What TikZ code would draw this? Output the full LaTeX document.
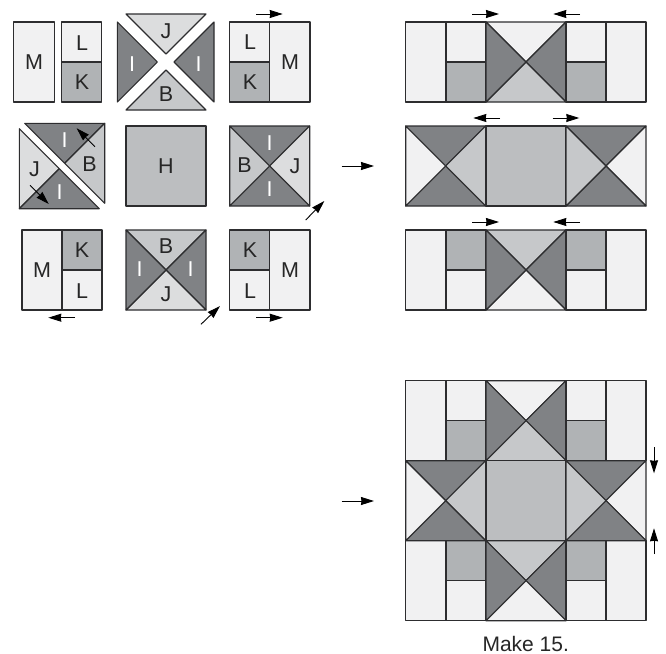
\documentclass[tikz,border=0pt]{standalone}
\usepackage{fontspec}
\setmainfont{Liberation Sans}
\usetikzlibrary{arrows.meta}
\definecolor{outline}{RGB}{45, 45, 47}
\definecolor{lightbg}{RGB}{241, 241, 242}
\definecolor{kbg}{RGB}{176, 179, 181}
\definecolor{ibg}{RGB}{128, 130, 133}
\definecolor{jbg}{RGB}{220, 221, 222}
\definecolor{bbg}{RGB}{198, 200, 202}
\definecolor{hbg}{RGB}{188, 190, 192}
\tikzset{
    patch/.style={draw=outline, line width=1.1pt, line join=round},
    piece/.style={font=\fontsize{21.5}{23}\selectfont, inner sep=0pt, color=black!85},
    whitepiece/.style={piece, color=white},
    caption/.style={font=\fontsize{21}{23}\selectfont, inner sep=0pt, color=black!85},
    press/.style={-{Stealth[length=13pt, width=8pt, inset=0.5pt]}, line width=0.9pt, color=black}
}
% quarter-square block: x, y, top, right, bottom, left
\newcommand{\quarterblock}[6]{
    \draw [patch, fill=#3] (#1,#2) -- ++(80,0) -- ++(-40,40) -- cycle;
    \draw [patch, fill=#4] (#1+80,#2) -- ++(0,80) -- ++(-40,-40) -- cycle;
    \draw [patch, fill=#5] (#1+80,#2+80) -- ++(-80,0) -- ++(40,-40) -- cycle;
    \draw [patch, fill=#6] (#1,#2+80) -- ++(0,-80) -- ++(40,40) -- cycle;
}
% two small squares: x, y, top, bottom
\newcommand{\twosquares}[4]{
    \draw [patch, fill=#3] (#1,#2) rectangle ++(40,40);
    \draw [patch, fill=#4] (#1,#2+40) rectangle ++(40,40);
}
% one row of the finished block: y, top and bottom of small squares, top and bottom of the middle unit
\newcommand{\sidesrow}[5]{
    \draw [patch, fill=lightbg] (405.7,#1) rectangle ++(40.3,80);
    \twosquares{446}{#1}{#2}{#3}
    \quarterblock{486}{#1}{#4}{ibg}{#5}{ibg}
    \twosquares{566}{#1}{#2}{#3}
    \draw [patch, fill=lightbg] (606,#1) rectangle ++(40,80);
}
\newcommand{\middlerow}[1]{
    \quarterblock{405.7}{#1}{ibg}{bbg}{ibg}{lightbg}
    \draw [patch, fill=hbg] (486,#1) rectangle ++(80,80);
    \quarterblock{566}{#1}{ibg}{lightbg}{ibg}{bbg}
}

\begin{document}
\begin{tikzpicture}[x=1pt, y=-1pt]
    \useasboundingbox (0,0) rectangle (666,653);

    % Top row of pieces
    \draw [patch, fill=lightbg] (13.7,22) rectangle (54.3,102);
    \twosquares{61.7}{22}{lightbg}{kbg}
    \draw [patch, fill=jbg] (126,14) -- (206,14) -- (166,54) -- cycle;
    \draw [patch, fill=ibg] (117.3,22) -- (117.3,102) -- (157.3,62) -- cycle;
    \draw [patch, fill=ibg] (214,22) -- (214,102) -- (174,62) -- cycle;
    \draw [patch, fill=bbg] (126,110) -- (206,110) -- (166,70) -- cycle;
    \twosquares{229.7}{22}{lightbg}{kbg}
    \draw [patch, fill=lightbg] (269.7,22) rectangle (310,102);

    % Middle row of pieces
    \draw [patch, fill=ibg] (24.7,123.3) -- (104.7,123.3) -- (64.7,163.3) -- cycle;
    \draw [patch, fill=bbg] (104.7,123.3) -- (104.7,203.3) -- (64.7,163.3) -- cycle;
    \draw [patch, fill=jbg] (19.3,128.7) -- (19.3,208.7) -- (59.3,168.7) -- cycle;
    \draw [patch, fill=ibg] (19.3,208.7) -- (99.3,208.7) -- (59.3,168.7) -- cycle;
    \draw [patch, fill=hbg] (126,126) rectangle (206,206);
    \quarterblock{229.7}{126}{ibg}{jbg}{ibg}{bbg}

    % Bottom row of pieces
    \draw [patch, fill=lightbg] (22,230) rectangle (62,310);
    \twosquares{62}{230}{kbg}{lightbg}
    \quarterblock{126}{230}{bbg}{ibg}{jbg}{ibg}
    \twosquares{229.7}{230}{kbg}{lightbg}
    \draw [patch, fill=lightbg] (269.7,230) rectangle (310,310);

    % Labels
    \node (lblm1) [piece] at (34,62) {M};
    \node (lbll1) [piece] at (82,43) {L};
    \node (lblk1) [piece] at (82,82) {K};
    \node (lblj1) [piece] at (166,31) {J};
    \node (lbli1) [whitepiece] at (132,64) {I};
    \node (lbli2) [whitepiece] at (198.5,64) {I};
    \node (lblb1) [piece] at (166,94) {B};
    \node (lbll2) [piece] at (250,42) {L};
    \node (lblk2) [piece] at (250,82) {K};
    \node (lblm2) [piece] at (290,62) {M};

    \node (lbli3) [whitepiece] at (64.5,140) {I};
    \node (lblb2) [piece] at (89.5,164) {B};
    \node (lblj2) [piece] at (34.5,169) {J};
    \node (lbli4) [whitepiece] at (59.5,192.5) {I};
    \node (lblh) [piece] at (166,166) {H};
    \node (lbli5) [whitepiece] at (269.7,143) {I};
    \node (lblb3) [piece] at (244.5,165.5) {B};
    \node (lblj3) [piece] at (295,166) {J};
    \node (lbli6) [whitepiece] at (269.7,189) {I};

    \node (lblm3) [piece] at (42,270) {M};
    \node (lblk3) [piece] at (82,250) {K};
    \node (lbll3) [piece] at (82,291) {L};
    \node (lblb4) [piece] at (166,246) {B};
    \node (lbli7) [whitepiece] at (139.5,269) {I};
    \node (lbli8) [whitepiece] at (190.5,269) {I};
    \node (lblj4) [piece] at (166,294) {J};
    \node (lblk4) [piece] at (250,250) {K};
    \node (lbll4) [piece] at (250,291) {L};
    \node (lblm4) [piece] at (290,270) {M};

    % Pressing arrows on the pieces
    \draw [press] (256,14) -- (282.7,14);
    \draw [press] (95,146.7) -- (76.7,128.3);
    \draw [press] (30,185.3) -- (48.7,204);
    \draw [press] (305.7,220) -- (324.3,201);
    \draw [press] (75,317.7) -- (48.3,317.7);
    \draw [press] (201,324.3) -- (220,306);
    \draw [press] (256,317.7) -- (282.7,317.7);

    % Joined rows
    \sidesrow{22}{lightbg}{kbg}{lightbg}{bbg}
    \middlerow{126}
    \sidesrow{230}{kbg}{lightbg}{bbg}{lightbg}

    \draw [press] (472.3,14) -- (499,14);
    \draw [press] (580,14) -- (553.3,14);
    \draw [press] (500,118) -- (473.3,118);
    \draw [press] (552.7,118) -- (579.3,118);
    \draw [press] (472.3,222) -- (499,222);
    \draw [press] (580,222) -- (553.3,222);

    % Finished block
    \sidesrow{380.7}{lightbg}{kbg}{lightbg}{bbg}
    \sidesrow{540.7}{kbg}{lightbg}{bbg}{lightbg}
    \middlerow{460.7}

    \draw [press] (654,447.3) -- (654,473.3);
    \draw [press] (654,554) -- (654,528.3);

    % Arrows between the steps
    \draw [press] (341.7,166) -- (374,166);
    \draw [press] (341.7,501) -- (374,501);

    \node (lblmake) [caption] at (525.7,644) {Make 15.};
\end{tikzpicture}
\end{document}
